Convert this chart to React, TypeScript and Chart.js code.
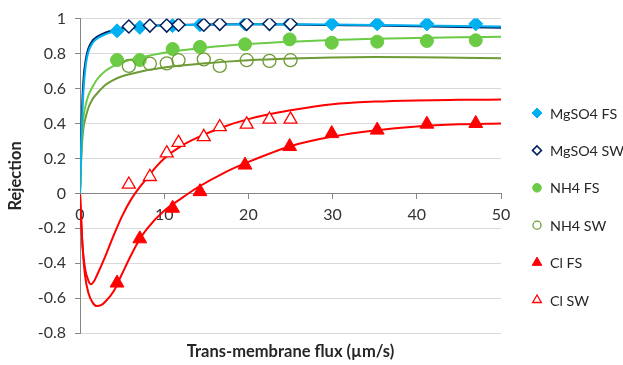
import React, { useEffect, useRef } from 'react';
import { Chart, registerables } from 'chart.js';
import { drawPoint } from 'chart.js/helpers';

Chart.register(...registerables);

// Measured data (trans-membrane flux, µm/s)
const fluxFS = [4.4, 7.1, 11.0, 14.25, 19.6, 24.9, 29.9, 35.3, 41.2, 47.0];
const fluxSW = [5.8, 8.3, 10.3, 11.7, 14.7, 16.6, 19.8, 22.5, 25.0];

const mgso4FS = [0.93, 0.95, 0.96, 0.965, 0.97, 0.97, 0.97, 0.97, 0.97, 0.97];
const mgso4SW = [0.955, 0.96, 0.96, 0.965, 0.965, 0.97, 0.97, 0.97, 0.97];
const nh4FS = [0.763, 0.763, 0.826, 0.838, 0.853, 0.881, 0.862, 0.868, 0.872, 0.876];
const nh4SW = [0.729, 0.742, 0.744, 0.762, 0.767, 0.729, 0.762, 0.758, 0.762];
const clFS = [-0.513, -0.26, -0.085, 0.01, 0.162, 0.268, 0.342, 0.362, 0.396, 0.4];
const clSW = [0.051, 0.095, 0.23, 0.29, 0.323, 0.38, 0.395, 0.423, 0.423];

// Model fit curves
const fitXMg = [0, 0.2, 0.4, 0.7, 1, 1.5, 2, 3, 4, 5, 7, 10, 15, 20, 25, 30, 35, 40, 45, 50];
const fitMgFS = [0, 0.35, 0.58, 0.74, 0.81, 0.86, 0.885, 0.91, 0.925, 0.935, 0.95, 0.96, 0.965, 0.967, 0.967, 0.966, 0.964, 0.961, 0.958, 0.955];
const fitMgSW = [0, 0.42, 0.64, 0.77, 0.83, 0.875, 0.895, 0.92, 0.935, 0.945, 0.955, 0.962, 0.966, 0.967, 0.966, 0.963, 0.96, 0.956, 0.952, 0.947];

const fitXNh = [0, 0.2, 0.4, 0.7, 1, 1.5, 2, 3, 4, 5, 7, 10, 15, 20, 25, 30, 35, 40, 45, 50];
const fitNhFS = [0, 0.3, 0.43, 0.51, 0.56, 0.61, 0.65, 0.7, 0.73, 0.75, 0.775, 0.805, 0.835, 0.855, 0.868, 0.877, 0.884, 0.889, 0.893, 0.896];
const fitNhSW = [0, 0.25, 0.37, 0.44, 0.49, 0.54, 0.57, 0.62, 0.65, 0.67, 0.695, 0.72, 0.745, 0.762, 0.772, 0.778, 0.78, 0.779, 0.776, 0.773];

const fitXClFS = [0, 0.3, 0.6, 1, 1.5, 2, 2.5, 3, 4, 5, 6, 7, 8, 10, 12, 14, 17, 20, 25, 30, 35, 40, 45, 50];
const fitClFS = [0, -0.3, -0.47, -0.57, -0.625, -0.645, -0.64, -0.62, -0.56, -0.46, -0.36, -0.27, -0.2, -0.1, -0.03, 0.035, 0.115, 0.18, 0.27, 0.325, 0.36, 0.383, 0.395, 0.4];

const fitXClSW = [0, 0.3, 0.6, 1, 1.3, 1.7, 2, 3, 4, 5, 6, 7, 8, 9, 10, 12, 14, 17, 20, 25, 30, 35, 40, 45, 50];
const fitClSW = [0, -0.3, -0.43, -0.5, -0.52, -0.5, -0.47, -0.36, -0.24, -0.13, -0.04, 0.03, 0.09, 0.15, 0.2, 0.27, 0.32, 0.38, 0.425, 0.475, 0.51, 0.525, 0.532, 0.535, 0.537];

const seriesLabels = ['MgSO4 FS', 'MgSO4 SW', 'NH4 FS', 'NH4 SW', 'Cl FS', 'Cl SW'];

const BLUE = '#00B0F0';
const NAVY = '#002060';
const GREEN = '#6CCB45';
const OLIVE = '#6E9B35';
const RED = '#FF0000';

const pts = (xs: number[], ys: number[]) => xs.map((x, i) => ({ x, y: ys[i] }));

const FONT = 'Lato, "Open Sans", sans-serif';

const legendPlugin = {
  id: 'sideLegend',
  afterDraw(chart: any) {
    const ctx = chart.ctx;
    const markers = chart.data.datasets.filter((d: any) => d.legendMarker);
    ctx.save();
    markers.forEach((d: any, i: number) => {
      const x = 537;
      const y = 113 + i * 37.4;
      ctx.fillStyle = d.backgroundColor;
      ctx.strokeStyle = d.borderColor;
      ctx.lineWidth = d.borderWidth;
      drawPoint(ctx, { pointStyle: d.pointStyle, radius: d.legendRadius, rotation: 0, borderWidth: d.borderWidth }, x, y);
      ctx.fillStyle = '#262626';
      ctx.font = `14.3px ${FONT}`;
      ctx.textAlign = 'left';
      ctx.textBaseline = 'middle';
      ctx.fillText(d.label, 550, y + 1);
    });
    ctx.restore();
  },
};

export default function App() {
  const ref = useRef<HTMLCanvasElement>(null);

  useEffect(() => {
    const markerBase = { showLine: false, legendMarker: true };
    const lineBase = { showLine: true, pointRadius: 0, pointHoverRadius: 0, borderWidth: 2, cubicInterpolationMode: 'monotone' as const, fill: false, order: 5 };

    const datasets: any[] = [
      { ...markerBase, label: seriesLabels[0], data: pts(fluxFS, mgso4FS), pointStyle: 'rectRot', pointRadius: 7, backgroundColor: BLUE, borderColor: BLUE, borderWidth: 1, legendRadius: 5, order: 2 },
      { ...markerBase, label: seriesLabels[1], data: pts(fluxSW, mgso4SW), pointStyle: 'rectRot', pointRadius: 6.5, backgroundColor: '#ffffff', borderColor: NAVY, borderWidth: 1.5, legendRadius: 4.5, order: 1 },
      { ...markerBase, label: seriesLabels[2], data: pts(fluxFS, nh4FS), pointStyle: 'circle', pointRadius: 6.5, backgroundColor: GREEN, borderColor: GREEN, borderWidth: 1, legendRadius: 4.3, order: 2 },
      { ...markerBase, label: seriesLabels[3], data: pts(fluxSW, nh4SW), pointStyle: 'circle', pointRadius: 6.5, backgroundColor: 'rgba(255,255,255,0)', borderColor: OLIVE, borderWidth: 1.3, legendRadius: 4, order: 1 },
      { ...markerBase, label: seriesLabels[4], data: pts(fluxFS, clFS), pointStyle: 'triangle', pointRadius: 8, backgroundColor: RED, borderColor: RED, borderWidth: 1, legendRadius: 5.5, order: 2 },
      { ...markerBase, label: seriesLabels[5], data: pts(fluxSW, clSW), pointStyle: 'triangle', pointRadius: 7.5, backgroundColor: '#ffffff', borderColor: RED, borderWidth: 1.3, legendRadius: 5, order: 1 },
      { ...lineBase, label: 'fit MgSO4 SW', data: pts(fitXMg, fitMgSW), borderColor: NAVY, order: 6 },
      { ...lineBase, label: 'fit MgSO4 FS', data: pts(fitXMg, fitMgFS), borderColor: BLUE },
      { ...lineBase, label: 'fit NH4 FS', data: pts(fitXNh, fitNhFS), borderColor: GREEN },
      { ...lineBase, label: 'fit NH4 SW', data: pts(fitXNh, fitNhSW), borderColor: OLIVE },
      { ...lineBase, label: 'fit Cl FS', data: pts(fitXClFS, fitClFS), borderColor: RED },
      { ...lineBase, label: 'fit Cl SW', data: pts(fitXClSW, fitClSW), borderColor: RED },
    ];

    const chart = new Chart(ref.current as HTMLCanvasElement, {
      type: 'scatter',
      data: { datasets },
      options: {
        animation: false,
        responsive: true,
        maintainAspectRatio: false,
        layout: { padding: { top: 18, right: 122, bottom: 0, left: 0 } },
        plugins: {
          legend: { display: false },
          tooltip: { enabled: false },
          title: {
            display: true,
            position: 'bottom',
            fullSize: false,
            text: 'Trans-membrane flux (µm/s)',
            color: '#262626',
            font: { family: FONT, size: 16.5, weight: 'bold' },
            padding: { top: 9, bottom: 3 },
          },
        },
        scales: {
          x: {
            type: 'linear',
            position: { y: 0 } as any,
            min: 0,
            max: 50,
            ticks: { stepSize: 10, color: '#333333', font: { family: FONT, size: 16 }, padding: 7, maxRotation: 0 },
            grid: { drawOnChartArea: false, drawTicks: true, tickLength: 5, tickColor: '#868686' },
            border: { color: '#868686', width: 1 },
          },
          y: {
            type: 'linear',
            min: -0.8,
            max: 1,
            afterFit: (s: any) => { s.width = 80; },
            ticks: { stepSize: 0.2, color: '#333333', font: { family: FONT, size: 16 }, padding: 9, callback: (v: any) => String(Math.round(Number(v) * 10) / 10) },
            grid: { color: '#D9D9D9', tickColor: '#868686', tickLength: 5, lineWidth: 1 },
            border: { color: '#868686', width: 1 },
            title: { display: true, text: 'Rejection', color: '#262626', font: { family: FONT, size: 16.5, weight: 'bold' }, padding: { top: 6, bottom: 0 } },
          },
        },
      },
      plugins: [legendPlugin],
    } as any);

    return () => chart.destroy();
  }, []);

  return (
    <div style={{ position: 'absolute', left: 0, top: 0, width: 623, height: 365, background: '#ffffff' }}>
      <canvas ref={ref} />
    </div>
  );
}
